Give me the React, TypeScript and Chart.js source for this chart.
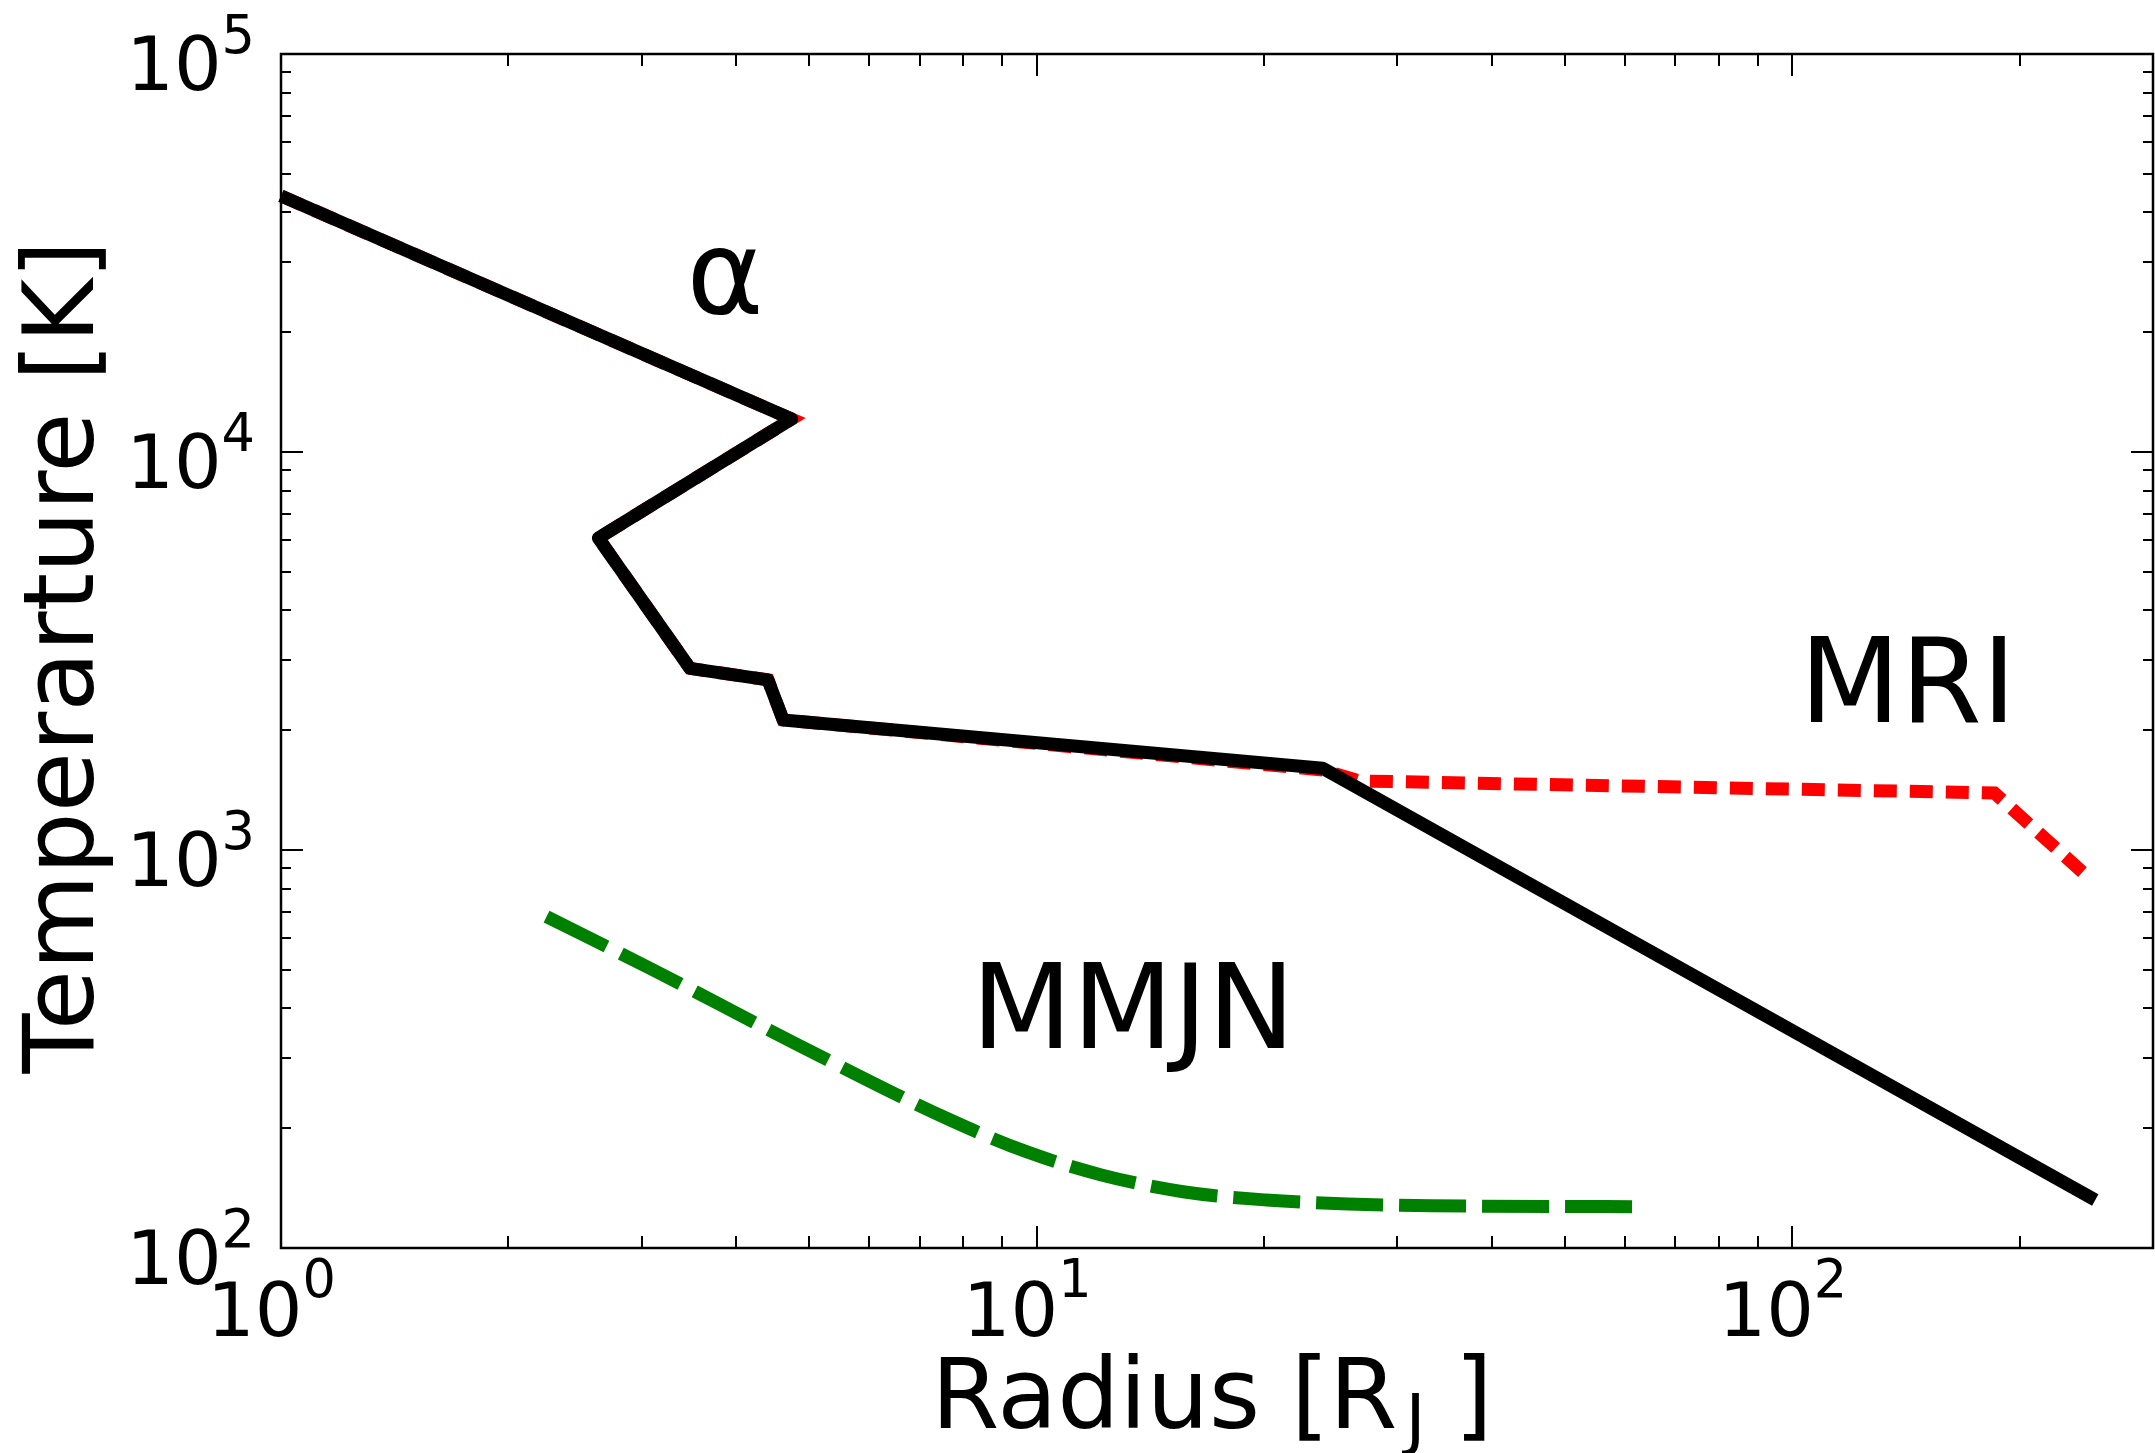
import React, { useEffect, useRef } from "react";
import { Chart, registerables } from "chart.js";

Chart.register(...registerables);

// ---- data ----
const alphaRadius = [1, 4.74, 2.63, 3.476, 4.41, 4.618, 23.9, 251.6];
const alphaTemp = [44000, 12100, 6080, 2861, 2675, 2122, 1605, 132];

const mriRadius = [1, 4.74, 2.63, 3.476, 4.41, 4.618, 23.9, 26.7, 185, 247];
const mriTemp = [44000, 12100, 6080, 2861, 2675, 2122, 1589, 1491, 1391, 850];

const mmjnRadius = [2.246, 3.077, 4.834, 7.596, 9.69, 12.18, 15.62, 20.13, 25.8, 33.3, 64.3];
const mmjnTemp = [680, 504.5, 323.7, 211.8, 174.6, 152.6, 138.5, 132, 129, 127.7, 127];

const xRange = [1, 300];
const yRange = [100, 100000];
const xMajorTicks = [1, 10, 100];
const xTickExponents = ["0", "1", "2"];
const yMajorTicks = [100, 1000, 10000, 100000];
const yTickExponents = ["2", "3", "4", "5"];

const annotationTexts = ["α", "MRI", "MMJN"];
const annotationRadius = [3.44, 102.2, 8.19];
const annotationTemp = [22340, 2097, 318];

const xTitleMain = "Radius [R";
const xTitleSub = "J";
const xTitleEnd = "]";
const yTitle = "Temperarture [K]";

const FONT = '"DejaVu Sans"';

function minorValues(min: number, max: number): number[] {
  const out: number[] = [];
  for (let d = Math.floor(Math.log10(min)); d <= Math.ceil(Math.log10(max)); d++) {
    for (let m = 2; m <= 9; m++) {
      const v = m * Math.pow(10, d);
      if (v > min && v < max) out.push(v);
    }
  }
  return out;
}

const axesPlugin = {
  id: "mplAxes",
  afterDraw(chart: any) {
    const ctx: CanvasRenderingContext2D = chart.ctx;
    const { left, right, top, bottom } = chart.chartArea;
    const xs = chart.scales.x;
    const ys = chart.scales.y;
    ctx.save();
    ctx.strokeStyle = "#000";
    ctx.lineWidth = 2;
    ctx.beginPath();
    // x ticks (bottom & top, inward)
    xMajorTicks.forEach((v) => {
      const px = Math.round(xs.getPixelForValue(v));
      ctx.moveTo(px, bottom); ctx.lineTo(px, bottom - 22);
      ctx.moveTo(px, top); ctx.lineTo(px, top + 22);
    });
    minorValues(xRange[0], xRange[1]).forEach((v) => {
      const px = Math.round(xs.getPixelForValue(v));
      ctx.moveTo(px, bottom); ctx.lineTo(px, bottom - 12);
      ctx.moveTo(px, top); ctx.lineTo(px, top + 12);
    });
    // y ticks (left & right, inward)
    yMajorTicks.forEach((v) => {
      const py = Math.round(ys.getPixelForValue(v));
      ctx.moveTo(left, py); ctx.lineTo(left + 22, py);
      ctx.moveTo(right, py); ctx.lineTo(right - 22, py);
    });
    minorValues(yRange[0], yRange[1]).forEach((v) => {
      const py = Math.round(ys.getPixelForValue(v));
      ctx.moveTo(left, py); ctx.lineTo(left + 10, py);
      ctx.moveTo(right, py); ctx.lineTo(right - 10, py);
    });
    ctx.stroke();

    // frame
    ctx.lineWidth = 2.5;
    ctx.strokeRect(left, top, right - left, bottom - top);

    // tick labels
    ctx.fillStyle = "#000";
    ctx.textAlign = "left";
    ctx.textBaseline = "alphabetic";
    const baseFont = `75px ${FONT}`;
    const supFont = `52.5px ${FONT}`;
    ctx.font = baseFont;
    const w10 = ctx.measureText("10").width;

    xMajorTicks.forEach((v, i) => {
      const px = xs.getPixelForValue(v);
      const ox = px - 74;
      ctx.font = baseFont;
      ctx.fillText("10", ox, bottom + 88);
      ctx.font = supFont;
      ctx.fillText(xTickExponents[i], ox + w10, bottom + 49);
    });

    yMajorTicks.forEach((v, i) => {
      const py = ys.getPixelForValue(v);
      ctx.font = supFont;
      const ws = ctx.measureText(yTickExponents[i]).width;
      const ox = left - 26 - w10 - ws;
      ctx.font = baseFont;
      ctx.fillText("10", ox, py + 36);
      ctx.font = supFont;
      ctx.fillText(yTickExponents[i], ox + w10, py - 1);
    });

    // x title
    const tFont = `98px ${FONT}`;
    const subFont = `68px ${FONT}`;
    ctx.font = tFont;
    const w1 = ctx.measureText(xTitleMain).width;
    const wEnd = ctx.measureText(xTitleEnd).width;
    const total = w1 + 57 + wEnd;
    const cx = (left + right) / 2 - 5;
    const x0 = cx - total / 2;
    const tb = bottom + 180;
    ctx.fillText(xTitleMain, x0, tb);
    ctx.font = subFont;
    ctx.fillText(xTitleSub, x0 + w1 + 8, tb + 14);
    ctx.font = tFont;
    ctx.fillText(xTitleEnd, x0 + w1 + 57, tb);

    // y title
    ctx.save();
    ctx.translate(left - 188, (top + bottom) / 2 + 6);
    ctx.rotate(-Math.PI / 2);
    ctx.textAlign = "center";
    ctx.font = tFont;
    ctx.fillText(yTitle, 0, 0);
    ctx.restore();

    // annotations
    ctx.font = `117px ${FONT}`;
    ctx.textAlign = "left";
    annotationTexts.forEach((t, i) => {
      const px = xs.getPixelForValue(annotationRadius[i]);
      const py = ys.getPixelForValue(annotationTemp[i]);
      ctx.fillText(t, px, py);
    });
    ctx.restore();
  },
};

export default function App() {
  const canvasRef = useRef<HTMLCanvasElement | null>(null);

  useEffect(() => {
    const canvas = canvasRef.current;
    if (!canvas) return;
    const toPts = (xs: number[], ys: number[]) => xs.map((x, i) => ({ x, y: ys[i] }));
    const chart = new Chart(canvas, {
      type: "line",
      data: {
        datasets: [
          {
            label: "α",
            data: toPts(alphaRadius, alphaTemp),
            borderColor: "#000000",
            borderWidth: 13,
            pointRadius: 0,
            tension: 0,
            borderJoinStyle: "round",
            borderCapStyle: "butt",
            fill: false,
            clip: false,
          },
          {
            label: "MRI",
            data: toPts(mriRadius, mriTemp),
            borderColor: "#ff0000",
            borderWidth: 13,
            borderDash: [23, 13],
            pointRadius: 0,
            tension: 0,
            borderCapStyle: "butt",
            fill: false,
            clip: false,
          },
          {
            label: "MMJN",
            data: toPts(mmjnRadius, mmjnTemp),
            borderColor: "#008000",
            borderWidth: 13,
            borderDash: [67, 16],
            pointRadius: 0,
            cubicInterpolationMode: "monotone",
            borderCapStyle: "butt",
            fill: false,
            clip: false,
          },
        ] as any,
      },
      options: {
        animation: false,
        responsive: false,
        devicePixelRatio: 1,
        events: [],
        layout: { padding: { left: 281, right: 2, top: 54, bottom: 205 } },
        plugins: { legend: { display: false }, tooltip: { enabled: false } },
        scales: {
          x: { type: "logarithmic", min: xRange[0], max: xRange[1], display: false },
          y: { type: "logarithmic", min: yRange[0], max: yRange[1], display: false },
        },
      } as any,
      plugins: [axesPlugin],
    });
    return () => chart.destroy();
  }, []);

  return (
    <div style={{ position: "absolute", left: 0, top: 0, width: 2155, height: 1453, background: "#fff" }}>
      <canvas ref={canvasRef} width={2155} height={1453} style={{ display: "block", width: 2155, height: 1453 }} />
    </div>
  );
}
